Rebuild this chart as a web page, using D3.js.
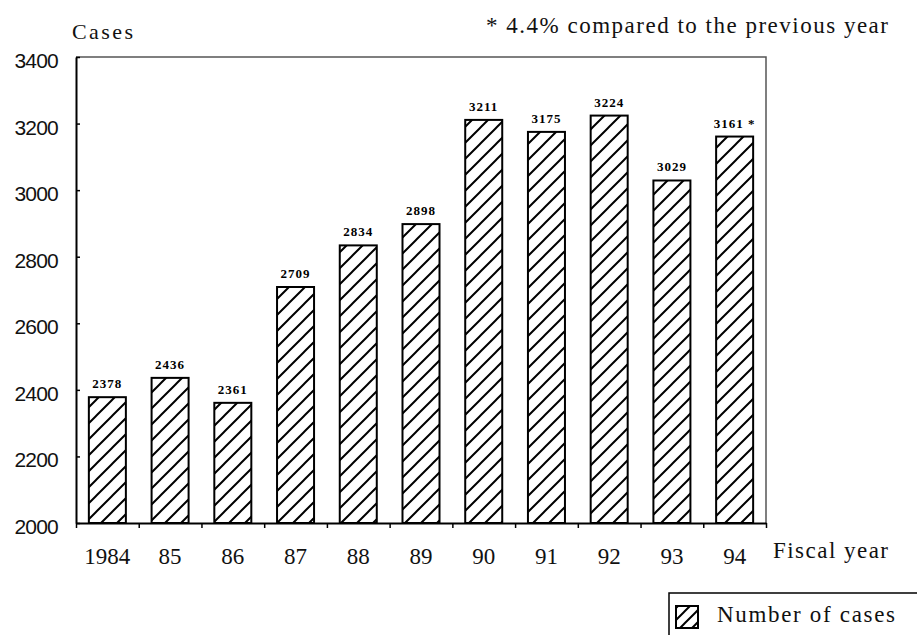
<!DOCTYPE html>
<html>
<head>
<meta charset="utf-8">
<script src="https://cdn.jsdelivr.net/npm/d3@7"></script>
<style>
  html, body { margin: 0; padding: 0; background: #fff; }
  svg { display: block; }
</style>
</head>
<body>
<script>
// Fiscal years and number of cases per year
const years = ["1984", "85", "86", "87", "88", "89", "90", "91", "92", "93", "94"];
const cases = [2378, 2436, 2361, 2709, 2834, 2898, 3211, 3175, 3224, 3029, 3161];
const notes = ["", "", "", "", "", "", "", "", "", "", " *"];
const yTicks = [2000, 2200, 2400, 2600, 2800, 3000, 3200, 3400];

const W = 917, H = 635;
const margin = { left: 76, right: 151, top: 57, bottom: 112 };
const serif = "'Liberation Serif', 'Times New Roman', serif";

const svg = d3.select("body").append("svg")
  .attr("width", W).attr("height", H);

// diagonal hatch fill
const defs = svg.append("defs");
const pat = defs.append("pattern")
  .attr("id", "hatch")
  .attr("patternUnits", "userSpaceOnUse")
  .attr("width", 16).attr("height", 16);
pat.append("path")
  .attr("d", "M-4,4 L4,-4 M0,16 L16,0 M12,20 L20,12")
  .attr("stroke", "#000").attr("stroke-width", 2).attr("fill", "none");

const swPat = defs.append("pattern")
  .attr("id", "hatchSmall")
  .attr("patternUnits", "userSpaceOnUse")
  .attr("width", 12).attr("height", 12);
swPat.append("path")
  .attr("d", "M-3,3 L3,-3 M0,12 L12,0 M9,15 L15,9")
  .attr("stroke", "#000").attr("stroke-width", 2).attr("fill", "none");

const x0 = margin.left, x1 = W - margin.right;
const y0 = H - margin.bottom, y1 = margin.top;

const x = d3.scaleBand()
  .domain(years)
  .range([x0, x1])
  .paddingInner(0.41)
  .paddingOuter(0.205);

const y = d3.scaleLinear()
  .domain([2000, 3400])
  .range([y0, y1]);

// plot frame (top and right edges)
svg.append("path")
  .attr("d", `M${x0},${y1} H${x1} V${y0}`)
  .attr("fill", "none")
  .attr("stroke", "#555")
  .attr("stroke-width", 1.5);

// bars
svg.append("g").selectAll("rect")
  .data(cases)
  .join("rect")
  .attr("x", (d, i) => x(years[i]))
  .attr("y", d => y(d))
  .attr("width", x.bandwidth())
  .attr("height", d => y(2000) - y(d))
  .attr("fill", "url(#hatch)")
  .attr("stroke", "#000")
  .attr("stroke-width", 2);

// value labels
svg.append("g").selectAll("text")
  .data(cases)
  .join("text")
  .attr("x", (d, i) => x(years[i]) + x.bandwidth() / 2)
  .attr("y", d => y(d) - 9)
  .attr("text-anchor", "middle")
  .style("font-family", serif)
  .attr("font-weight", "bold")
  .attr("font-size", 13)
  .attr("letter-spacing", 1)
  .attr("fill", "#000")
  .text((d, i) => d + notes[i]);

// y axis
const yAxis = svg.append("g")
  .attr("transform", `translate(${x0},0)`)
  .call(d3.axisLeft(y).tickValues(yTicks).tickFormat(d3.format("d"))
    .tickSizeInner(-4).tickSizeOuter(0).tickPadding(18));
yAxis.select(".domain").attr("stroke", "#000").attr("stroke-width", 2);
yAxis.selectAll(".tick line").attr("stroke", "#000").attr("stroke-width", 1.5);
yAxis.selectAll(".tick text")
  .style("font-family", "'Liberation Sans', Arial, sans-serif")
  .attr("font-size", 21)
  .attr("letter-spacing", -0.8)
  .attr("dy", "0.5em")
  .attr("fill", "#111");

// x axis tick marks at category boundaries
const xb = d3.scaleLinear().domain([0, years.length]).range([x0, x1]);
const xTickAxis = svg.append("g")
  .attr("transform", `translate(0,${y0})`)
  .call(d3.axisBottom(xb).tickValues(d3.range(years.length + 1)).tickSize(5).tickSizeOuter(0).tickFormat(""));
xTickAxis.select(".domain").attr("stroke", "#000").attr("stroke-width", 2);
xTickAxis.selectAll(".tick line").attr("stroke", "#000").attr("stroke-width", 1.5);

// x axis category labels
const xAxis = svg.append("g")
  .attr("transform", `translate(0,${y0})`)
  .call(d3.axisBottom(x).tickSize(0).tickPadding(25));
xAxis.select(".domain").remove();
xAxis.selectAll(".tick text")
  .style("font-family", serif)
  .attr("font-size", 23)
  .attr("fill", "#111");

// axis titles and note
svg.append("text")
  .attr("x", 72).attr("y", 39)
  .style("font-family", serif)
  .attr("font-size", 22)
  .attr("textLength", 61).attr("lengthAdjust", "spacing")
  .attr("fill", "#111")
  .text("Cases");

svg.append("text")
  .attr("x", 486).attr("y", 33)
  .style("font-family", serif)
  .attr("font-size", 23)
  .attr("textLength", 402).attr("lengthAdjust", "spacing")
  .attr("fill", "#111")
  .text("* 4.4% compared to the previous year");

svg.append("text")
  .attr("x", 773).attr("y", 558)
  .style("font-family", serif)
  .attr("font-size", 23)
  .attr("textLength", 115).attr("lengthAdjust", "spacing")
  .attr("fill", "#111")
  .text("Fiscal year");

// legend
const lg = svg.append("g");
lg.append("rect")
  .attr("x", 669).attr("y", 593)
  .attr("width", 270).attr("height", 60)
  .attr("fill", "#fff").attr("stroke", "#000").attr("stroke-width", 1.5);
lg.append("rect")
  .attr("x", 676).attr("y", 606)
  .attr("width", 22).attr("height", 22)
  .attr("fill", "url(#hatchSmall)")
  .attr("stroke", "#000").attr("stroke-width", 2);
lg.append("text")
  .attr("x", 717).attr("y", 622)
  .style("font-family", serif)
  .attr("font-size", 23)
  .attr("textLength", 178).attr("lengthAdjust", "spacing")
  .attr("fill", "#111")
  .text("Number of cases");
</script>
</body>
</html>
